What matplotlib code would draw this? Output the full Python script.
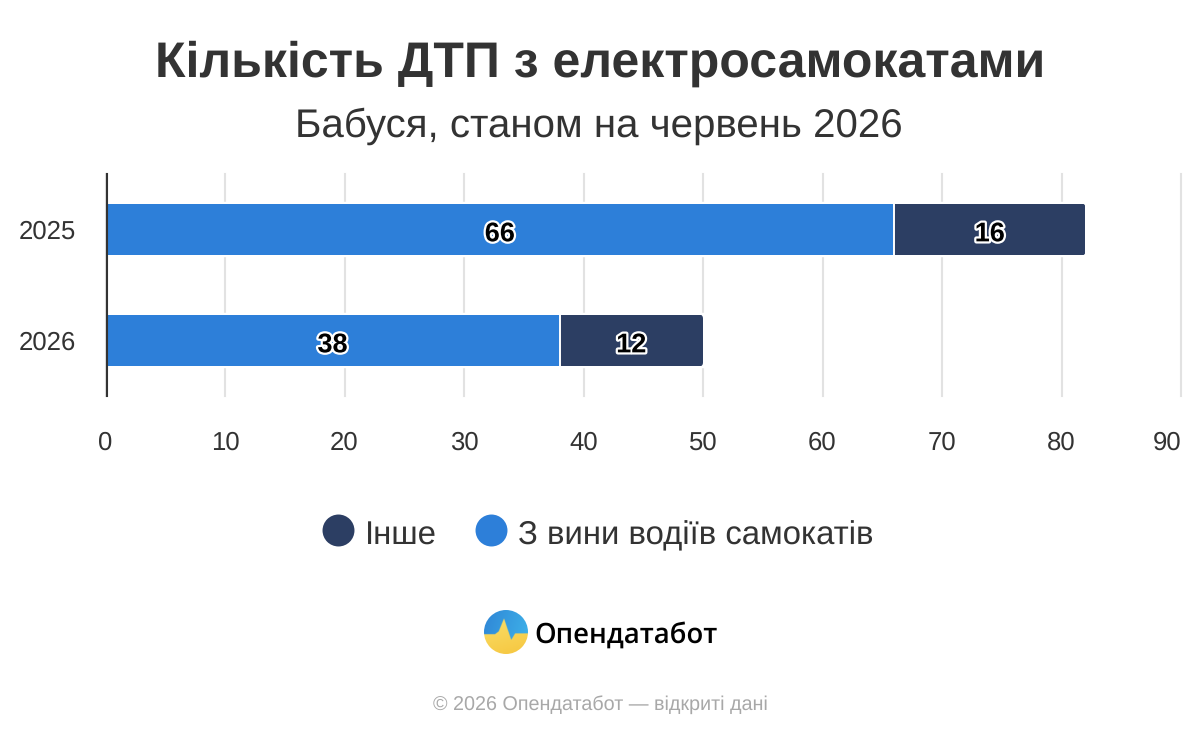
import numpy as np
import matplotlib
matplotlib.use("Agg")
from matplotlib import pyplot as plt
from matplotlib import patheffects as pe
from matplotlib.colors import LinearSegmentedColormap
from matplotlib.lines import Line2D
from matplotlib.patches import Circle, FancyBboxPatch

plt.rcParams['font.family'] = ['Liberation Sans', 'DejaVu Sans']
plt.rcParams['text.hinting'] = 'none'

years = ['2025', '2026']
drivers_fault = [66, 38]
other = [16, 12]
x_ticks = [0, 10, 20, 30, 40, 50, 60, 70, 80, 90]

title = 'Кількість ДТП з електросамокатами'
subtitle = 'Бабуся, станом на червень 2026'
legend_other = 'Інше'
legend_drivers = 'З вини водіїв самокатів'
brand = 'Опендатабот'
footer = '© 2026 Опендатабот — відкриті дані'

# outline of the pulse in the logo, circle radius = 1
pulse_x = [-1, -0.5, -0.33, -0.09, 0.24, 0.42, 1]
pulse_y = [-0.1, -0.1, 0.03, 0.62, -0.36, -0.06, -0.06]

BLUE = '#2d7fd9'
NAVY = '#2c3e63'
TEXT = '#333333'
GRID = '#e2e2e2'
W, H = 1200, 740


def fig_box(left, top, right, bottom):
    # pixel box measured from the top left -> figure fractions
    return [left / W, 1 - bottom / H, (right - left) / W, (bottom - top) / H]


def draw_logo(fig):
    logo = fig.add_axes(fig_box(484, 610, 528, 654))
    logo.axis('off')

    xs, ys = np.meshgrid(np.linspace(-1, 1, 220), np.linspace(1, -1, 220))
    sky = LinearSegmentedColormap.from_list('sky', ['#2f86d6', '#3fb4ea'])
    field = LinearSegmentedColormap.from_list('field', ['#f6c63f', '#fbe36f'])
    sky_rgb = sky((xs + ys * -0.3 + 1.3) / 2.6)
    field_rgb = field((ys - xs * 0.3 + 1.3) / 2.6)
    below = ys < np.interp(xs, pulse_x, pulse_y)
    rgb = np.where(below[..., None], field_rgb, sky_rgb)

    img = logo.imshow(rgb, extent=(-1, 1, -1, 1), aspect='auto', interpolation='bilinear')
    img.set_clip_path(Circle((0, 0), 1, transform=logo.transData))


def main():
    fig = plt.figure(figsize=(W / 100, H / 100), dpi=100, facecolor='white')
    ax = fig.add_axes(fig_box(105.5, 174, 1181, 396))

    y = np.arange(len(years))
    ax.set_xlim(0, 90)
    ax.set_ylim(1.5, -0.5)

    ax.set_axisbelow(True)
    ax.xaxis.grid(True, color=GRID, linewidth=1.5)
    ax.yaxis.grid(False)
    for line in ax.get_xgridlines():
        line.set_clip_on(False)
    for side in ['top', 'right', 'bottom']:
        ax.spines[side].set_visible(False)
    ax.spines['left'].set_color(TEXT)
    ax.spines['left'].set_linewidth(1.5)
    ax.spines['left'].set_position(('outward', -1.1))
    ax.spines['left'].set_zorder(5)

    height = 0.468
    totals = np.array(drivers_fault) + np.array(other)
    # white halo keeps the grid lines off the bars
    ax.barh(y, totals, height=height, color='white', edgecolor='white', linewidth=3.2, zorder=2)
    ax.barh(y, drivers_fault, height=height, color=BLUE, edgecolor='none', zorder=3)
    dark_bars = ax.barh(y, other, left=drivers_fault, height=height, color=NAVY,
                        edgecolor='none', zorder=3)
    # gap between the two segments, and a clean start at the axis line
    ax.vlines(drivers_fault, y - height / 2, y + height / 2, color='white', linewidth=1.4, zorder=4)
    ax.vlines(0, -0.5, 1.5, color='white', linewidth=1.2, zorder=4)

    # only the right end of the stack has rounded corners
    fig.canvas.draw()
    for bar in dark_bars:
        box = bar.get_window_extent()
        clip = FancyBboxPatch((box.x0 - 20, box.y0 + 3), box.width + 17, box.height - 6,
                              boxstyle='round,pad=3,rounding_size=4',
                              transform=None, facecolor='none', edgecolor='none')
        bar.set_clip_path(clip)

    outline = [pe.withStroke(linewidth=3.2, foreground='white')]
    for i in y:
        for start, value in [(0, drivers_fault[i]), (drivers_fault[i], other[i])]:
            ax.annotate(str(value), (start + value / 2, i), xytext=(0, -3.5),
                        textcoords='offset points', ha='center', va='center',
                        fontsize=19.5, fontweight='bold', color='black',
                        path_effects=outline, zorder=6)

    ax.set_yticks(y, years)
    ax.set_xticks(x_ticks, [str(t) for t in x_ticks])
    ax.tick_params(axis='both', length=0, labelsize=18.5, labelcolor=TEXT)
    ax.tick_params(axis='y', pad=22)
    ax.tick_params(axis='x', pad=25)
    ax.get_xticklabels()[-1].set_ha('right')

    fig.text(600 / W, 1 - 64 / H, title, ha='center', va='center', fontsize=36,
             fontweight='bold', color=TEXT)
    fig.text(599 / W, 1 - 126 / H, subtitle, ha='center', va='center', fontsize=29,
             color=TEXT)

    handles = [
        Line2D([], [], linestyle='none', marker='o', markersize=23, markeredgewidth=0,
               color=NAVY, label=legend_other),
        Line2D([], [], linestyle='none', marker='o', markersize=23, markeredgewidth=0,
               color=BLUE, label=legend_drivers),
    ]
    leg = fig.legend(handles=handles, ncols=2, loc='center', bbox_to_anchor=(595.5 / W, 1 - 533 / H),
                     frameon=False, fontsize=23.7, labelcolor=TEXT, handletextpad=0.22,
                     columnspacing=1.05, handlelength=1.2)
    for label in leg.get_texts():
        label.set_y(-3)

    draw_logo(fig)

    fig.text(534 / W, 1 - 635 / H, brand, ha='left', va='center', fontsize=19.8,
             fontfamily='Open Sans', fontweight='semibold', color='black')
    fig.text(600 / W, 1 - 705 / H, footer, ha='center', va='center', fontsize=14.2,
             color='#a8a8a8')

    fig.savefig('out.png', dpi=100, facecolor='white')


if __name__ == "__main__":
    main()
